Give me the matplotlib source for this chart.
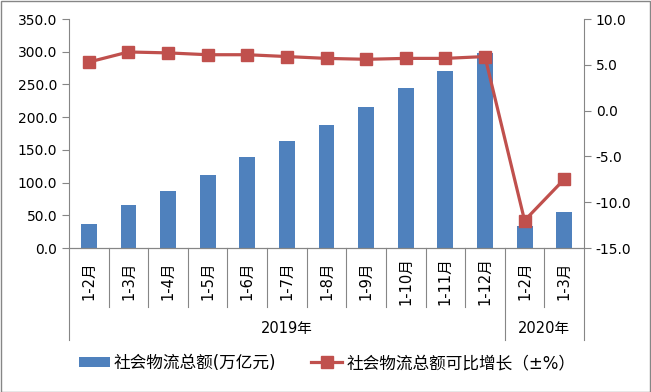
import matplotlib
matplotlib.use("Agg")
import matplotlib.pyplot as plt
from matplotlib.patches import Rectangle, Patch
from matplotlib.lines import Line2D
from matplotlib.ticker import FormatStrFormatter, MultipleLocator
import matplotlib.transforms as mtransforms

plt.rcParams['font.family'] = ['DejaVu Sans', 'Noto Sans CJK SC']

categories = ["1-2月", "1-3月", "1-4月", "1-5月", "1-6月", "1-7月", "1-8月",
              "1-9月", "1-10月", "1-11月", "1-12月", "1-2月", "1-3月"]
years = ["2019年", "2020年"]
year_counts = [11, 2]
totals = [37.3, 66.1, 87.5, 112.0, 139.4, 163.8, 188.2, 215.7, 244.7, 270.7, 298.0, 33.0, 55.4]
growth = [5.3, 6.4, 6.3, 6.1, 6.1, 5.9, 5.7, 5.6, 5.7, 5.7, 5.9, -12.0, -7.5]
bar_label = "社会物流总额(万亿元)"
line_label = "社会物流总额可比增长（±%）"

W, H = 651, 392
fig = plt.figure(figsize=(W / 100, H / 100), dpi=100)
fig.patches.append(Rectangle((0.5 / W, 0.5 / H), 1 - 1.5 / W, 1 - 1.5 / H, transform=fig.transFigure,
                             fill=False, edgecolor="#868686", linewidth=1.0))

L, R, T, B = 69, 584, 19, 248
ax = fig.add_axes([L / W, 1 - B / H, (R - L) / W, (B - T) / H])
x = list(range(len(categories)))
bar_color = "#4F81BD"
line_color = "#C0504D"
grey = "#868686"

ax.bar(x, totals, width=0.4, color=bar_color, zorder=2)
ax.set_xlim(-0.5, len(categories) - 0.5)
ax.set_ylim(0, 350)
ax.yaxis.set_major_locator(MultipleLocator(50))
ax.yaxis.set_major_formatter(FormatStrFormatter('%.1f'))

ax2 = ax.twinx()
ax2.plot(x, growth, color=line_color, linewidth=2.3, marker='s', markersize=8.5, zorder=3)
ax2.set_ylim(-15, 10)
ax2.yaxis.set_major_locator(MultipleLocator(5))
ax2.yaxis.set_major_formatter(FormatStrFormatter('%.1f'))

for a in (ax, ax2):
    a.spines['top'].set_visible(False)
    for s in ('left', 'right', 'bottom'):
        a.spines[s].set_color(grey)
    a.tick_params(axis='y', colors=grey, labelcolor='black', labelsize=10, length=5, width=0.8, direction='out')
ax.spines['right'].set_visible(False)
ax2.spines['left'].set_visible(False)
ax.set_xticks([])
ax2.set_xticks([])

trans = mtransforms.blended_transform_factory(ax.transData, ax.transAxes)
ph = B - T
short = -(307 - B) / ph
long_ = -(340 - B) / ph
bounds = [-0.5]
acc = -0.5
for c in year_counts:
    acc += c
    bounds.append(acc)
for i in range(len(categories) + 1):
    xv = i - 0.5
    y1 = long_ if xv in bounds else short
    ax.plot([xv, xv], [0, y1], transform=trans, color=grey, linewidth=0.8, clip_on=False)

cat_y = -(281 - B) / ph
for xi, lab in zip(x, categories):
    ax.text(xi, cat_y, lab, transform=trans, rotation=90, ha='center', va='center', fontsize=10.5)

year_y = -(329 - B) / ph
for k, yl in enumerate(years):
    xc = (bounds[k] + bounds[k + 1]) / 2
    ax.text(xc, year_y, yl, transform=trans, ha='center', va='center', fontsize=10.5)

handles = [Patch(facecolor=bar_color, edgecolor='none'),
           Line2D([0], [0], color=line_color, linewidth=2.3, marker='s', markersize=8.5)]
fig.legend(handles, [bar_label, line_label], loc='center', bbox_to_anchor=(327 / W, 1 - 363 / H),
           ncol=2, frameon=False, fontsize=12, handlelength=1.86, handletextpad=0.25,
           columnspacing=2.1, handleheight=0.6)

fig.savefig("out.png", dpi=100)
